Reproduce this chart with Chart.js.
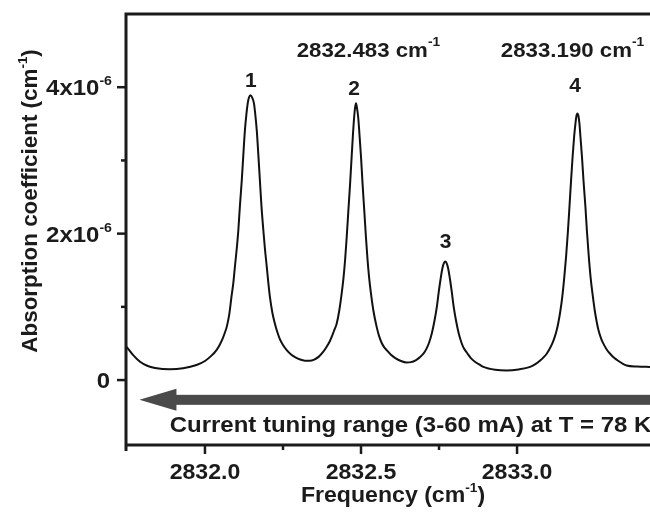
<!DOCTYPE html>
<html>
<head>
<meta charset="utf-8">
<script src="https://cdn.jsdelivr.net/npm/chart.js@4.4.1/dist/chart.umd.min.js"></script>
<style>
  html, body { margin: 0; padding: 0; background: #fff; overflow: hidden; }
  canvas { display: block; }
</style>
</head>
<body>
<canvas id="spectrum" width="650" height="514"></canvas>
<script>
// Absorption spectrum (y in units of 1e-6 cm^-1)
// one row of freq matches the same row of absorb
var freq = [
  2831.749, 2831.770, 2831.792, 2831.815, 2831.840, 2831.888, 2831.930, 2831.973, 2832.000, 2832.020,
  2832.037, 2832.047, 2832.057, 2832.064, 2832.070, 2832.078, 2832.085, 2832.091, 2832.096, 2832.102,
  2832.107, 2832.112, 2832.118, 2832.123, 2832.128, 2832.133, 2832.137, 2832.141, 2832.146, 2832.151,
  2832.157, 2832.161, 2832.166, 2832.171, 2832.176, 2832.181, 2832.187, 2832.192, 2832.198, 2832.203,
  2832.208, 2832.216, 2832.223, 2832.230, 2832.240, 2832.250, 2832.262, 2832.276, 2832.290, 2832.305,
  2832.320, 2832.335, 2832.350, 2832.365, 2832.378, 2832.390, 2832.400, 2832.408, 2832.415, 2832.422,
  2832.430, 2832.438, 2832.444, 2832.449, 2832.454, 2832.459, 2832.465, 2832.470, 2832.474, 2832.478,
  2832.481, 2832.484, 2832.487, 2832.491, 2832.495, 2832.500, 2832.505, 2832.511, 2832.516, 2832.521,
  2832.526, 2832.532, 2832.540, 2832.550, 2832.558, 2832.566, 2832.574, 2832.582, 2832.595, 2832.610,
  2832.628, 2832.646, 2832.660, 2832.675, 2832.688, 2832.700, 2832.710, 2832.718, 2832.727, 2832.735,
  2832.743, 2832.749, 2832.755, 2832.761, 2832.766, 2832.770, 2832.774, 2832.779, 2832.785, 2832.791,
  2832.797, 2832.805, 2832.813, 2832.822, 2832.830, 2832.840, 2832.852, 2832.865, 2832.880, 2832.892,
  2832.930, 2832.967, 2833.005, 2833.042, 2833.060, 2833.075, 2833.087, 2833.095, 2833.105, 2833.113,
  2833.120, 2833.127, 2833.133, 2833.139, 2833.145, 2833.151, 2833.157, 2833.163, 2833.168, 2833.173,
  2833.178, 2833.183, 2833.187, 2833.190, 2833.1935, 2833.197, 2833.200, 2833.203, 2833.208, 2833.213,
  2833.219, 2833.224, 2833.230, 2833.236, 2833.243, 2833.249, 2833.255, 2833.261, 2833.270, 2833.280,
  2833.290, 2833.298, 2833.312, 2833.325, 2833.338, 2833.351, 2833.385, 2833.426
];
var absorb = [
  0.455, 0.34, 0.25, 0.195, 0.165, 0.146, 0.16, 0.205, 0.26, 0.33,
  0.41, 0.48, 0.57, 0.65, 0.73, 0.90, 1.14, 1.33, 1.55, 1.80,
  2.05, 2.38, 2.73, 3.08, 3.41, 3.64, 3.78, 3.86, 3.89, 3.86,
  3.78, 3.64, 3.41, 3.08, 2.73, 2.38, 2.05, 1.80, 1.55, 1.33,
  1.14, 0.92, 0.79, 0.68, 0.56, 0.48, 0.41, 0.35, 0.31, 0.28,
  0.265, 0.265, 0.28, 0.32, 0.38, 0.455, 0.53, 0.61, 0.69, 0.77,
  0.94, 1.18, 1.40, 1.64, 1.94, 2.28, 2.68, 3.05, 3.34, 3.59,
  3.72, 3.78, 3.72, 3.59, 3.36, 3.05, 2.68, 2.28, 1.94, 1.64,
  1.40, 1.18, 0.94, 0.73, 0.60, 0.51, 0.45, 0.41, 0.35, 0.30,
  0.26, 0.24, 0.245, 0.27, 0.31, 0.36, 0.43, 0.51, 0.64, 0.80,
  1.0, 1.20, 1.38, 1.53, 1.60, 1.62, 1.60, 1.53, 1.38, 1.20,
  1.0, 0.80, 0.64, 0.51, 0.43, 0.37, 0.30, 0.25, 0.21, 0.18,
  0.14, 0.13, 0.145, 0.18, 0.22, 0.27, 0.32, 0.36, 0.43, 0.50,
  0.58, 0.68, 0.80, 0.95, 1.14, 1.39, 1.68, 2.03, 2.37, 2.72,
  3.05, 3.33, 3.50, 3.60, 3.64, 3.60, 3.50, 3.33, 3.05, 2.72,
  2.37, 2.03, 1.68, 1.39, 1.14, 0.95, 0.80, 0.68, 0.56, 0.47,
  0.40, 0.36, 0.30, 0.26, 0.225, 0.20, 0.185, 0.18
];

// Axis ranges and ticks
var xMin = 2831.747, xMax = 2833.426, xStep = 0.25, xLabelEvery = 0.5;
var yMin = -0.887, yMax = 5.0, yStep = 1, yLabelEvery = 2, yExponent = "-6";

// Peak numbers (label position in data units)
var peakLabels = ["1", "2", "3", "4"];
var peakLabelX = [2832.147, 2832.478, 2832.771, 2833.186];
var peakLabelY = [4.0, 3.90, 1.80, 3.93];

// Line positions written above peaks 2 and 4
var lineText = ["2832.483 cm", "2833.190 cm"];
var lineTextX = [2832.294, 2832.948];
var lineTextY = [4.41, 4.41];

// Tuning arrow
var arrowTipX = 2831.79, arrowY = -0.27;
var arrowText = "Current tuning range (3-60 mA) at T = 78 K";
var arrowTextX = 2831.887, arrowTextY = -0.71;

var INK = "#1b1b1b";
var STRETCH = 1.09;

function font(size) {
    return "bold " + size + "px 'Liberation Sans', Arial, sans-serif";
}

// Draws text pieces [text, size, rise] one after another, slightly widened
function drawRich(ctx, parts, x, y, align, stretch) {
    var sx = stretch || STRETCH;
    var w = 0;
    parts.forEach(function (p) {
        ctx.font = font(p[1]);
        w += ctx.measureText(p[0]).width * sx;
    });
    var cx = align === "center" ? x - w / 2 : (align === "right" ? x - w : x);
    parts.forEach(function (p) {
        ctx.font = font(p[1]);
        ctx.save();
        ctx.translate(cx, y - (p[2] || 0));
        ctx.scale(sx, 1);
        ctx.textAlign = "left";
        ctx.textBaseline = "alphabetic";
        ctx.fillText(p[0], 0, 0);
        ctx.restore();
        cx += ctx.measureText(p[0]).width * sx;
    });
}

function isMultiple(v, step) {
    var r = v / step;
    return Math.abs(r - Math.round(r)) < 1e-6;
}

var decorations = {
    id: "decorations",
    afterDraw: function (chart) {
        var ctx = chart.ctx;
        var area = chart.chartArea;
        var xs = chart.scales.x, ys = chart.scales.y;
        ctx.save();
        ctx.fillStyle = INK;
        ctx.strokeStyle = INK;

        // frame: left, bottom and top lines (right side runs off the page)
        ctx.lineWidth = 3;
        ctx.beginPath();
        ctx.moveTo(area.right + 2, area.top);
        ctx.lineTo(area.left, area.top);
        ctx.lineTo(area.left, area.bottom + 6);
        ctx.moveTo(area.left, area.bottom);
        ctx.lineTo(area.right + 2, area.bottom);
        ctx.stroke();

        // x ticks
        ctx.lineWidth = 2.5;
        xs.ticks.forEach(function (t) {
            var v = t.value;
            if (!isMultiple(v, xStep) || v <= xMin || v >= xMax) return;
            var px = xs.getPixelForValue(v);
            var major = isMultiple(v, xLabelEvery);
            ctx.beginPath();
            ctx.moveTo(px, area.bottom);
            ctx.lineTo(px, area.bottom + (major ? 9 : 5));
            ctx.stroke();
            if (major) drawRich(ctx, [[v.toFixed(1), 22]], px, area.bottom + 34, "center", 1.05);
        });

        // y ticks
        ys.ticks.forEach(function (t) {
            var v = t.value;
            if (!isMultiple(v, yStep) || v < yMin || v >= yMax) return;
            var py = ys.getPixelForValue(v);
            var major = isMultiple(v, yLabelEvery);
            ctx.beginPath();
            ctx.moveTo(area.left, py);
            ctx.lineTo(area.left - (major ? 9 : 5), py);
            ctx.stroke();
            if (!major) return;
            if (v === 0) {
                drawRich(ctx, [["0", 22]], area.left - 16, py + 8, "right");
            } else {
                drawRich(ctx, [[Math.round(v) + "x10", 22], [yExponent, 13, 10]], area.left - 14, py + 8, "right");
            }
        });

        // axis titles
        drawRich(ctx, [["Frequency (cm", 22], ["-1", 13, 10], [")", 22]], (area.left + area.right) / 2 + 5, 502, "center", 1.05);
        ctx.save();
        ctx.translate(37, 201);
        ctx.rotate(-Math.PI / 2);
        drawRich(ctx, [["Absorption coefficient (cm", 22], ["-1", 13, 10], [")", 22]], 0, 0, "center", 1.02);
        ctx.restore();

        // peak numbers
        peakLabels.forEach(function (s, i) {
            drawRich(ctx, [[s, 20]], xs.getPixelForValue(peakLabelX[i]), ys.getPixelForValue(peakLabelY[i]), "center", 1.05);
        });

        // line positions
        lineText.forEach(function (s, i) {
            drawRich(ctx, [[s, 21], ["-1", 13, 11]], xs.getPixelForValue(lineTextX[i]), ys.getPixelForValue(lineTextY[i]), "left", 1.06);
        });

        // tuning arrow
        var tipX = xs.getPixelForValue(arrowTipX);
        var ay = ys.getPixelForValue(arrowY);
        ctx.fillStyle = "#4a4a4a";
        ctx.fillRect(tipX + 34, ay - 5, area.right - tipX, 10);
        ctx.beginPath();
        ctx.moveTo(tipX, ay);
        ctx.lineTo(tipX + 37, ay - 11);
        ctx.lineTo(tipX + 37, ay + 11);
        ctx.closePath();
        ctx.fill();

        ctx.fillStyle = INK;
        drawRich(ctx, [[arrowText, 22]], xs.getPixelForValue(arrowTextX), ys.getPixelForValue(arrowTextY), "left");

        ctx.restore();
    }
};

var ctx = document.getElementById("spectrum").getContext("2d");

var spectrumChart = new Chart(ctx, {
    type: "line",
    data: {
        datasets: [{
            data: freq.map(function (f, i) { return { x: f, y: absorb[i] }; }),
            borderColor: "#111111",
            borderWidth: 2,
            pointRadius: 0,
            fill: false,
            cubicInterpolationMode: "monotone"
        }]
    },
    options: {
        responsive: false,
        animation: false,
        layout: {
            padding: { top: 14, right: 0, bottom: 0, left: 0 }
        },
        plugins: {
            legend: { display: false },
            tooltip: { enabled: false }
        },
        scales: {
            x: {
                type: "linear",
                min: xMin,
                max: xMax,
                ticks: { display: false, stepSize: xStep },
                grid: { display: false },
                border: { display: false },
                afterFit: function (scale) { scale.height = 69; }  // room for ticks and title
            },
            y: {
                min: yMin,
                max: yMax,
                ticks: { display: false, stepSize: yStep },
                grid: { display: false },
                border: { display: false },
                afterFit: function (scale) { scale.width = 126; }
            }
        }
    },
    plugins: [decorations]
});
</script>
</body>
</html>
